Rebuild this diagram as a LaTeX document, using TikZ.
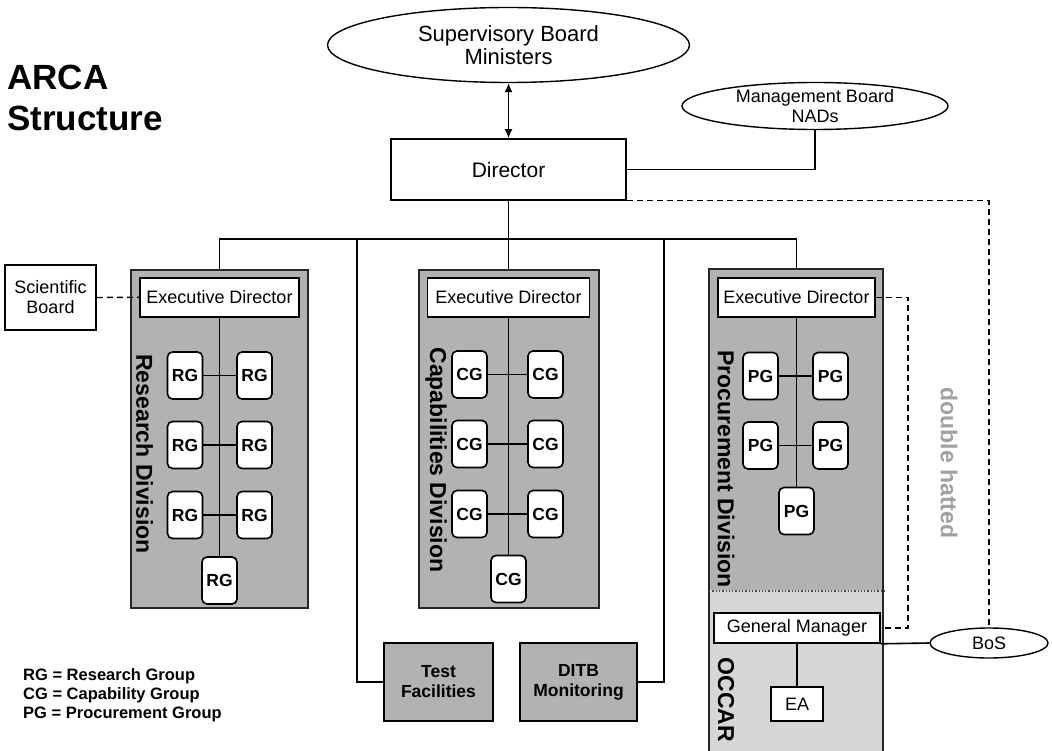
\documentclass[tikz,border=0pt]{standalone}
\usepackage{fontspec}
\setmainfont{Liberation Sans}
\usetikzlibrary{positioning,shapes.geometric,arrows.meta}
\definecolor{divgray}{RGB}{178,178,178}
\definecolor{occargray}{RGB}{214,214,214}
\definecolor{hatgray}{RGB}{160,160,160}

\begin{document}
\begin{tikzpicture}[x=1pt,y=-1pt]
\tikzstyle{every node}=[inner sep=0pt,font=\fontsize{18}{20}\selectfont]
\tikzstyle{link}=[line width=1.6pt]
\tikzstyle{dashlink}=[line width=1.4pt,dash pattern=on 6pt off 4pt]
\tikzstyle{box}=[draw,fill=white,line width=1.6pt,align=center]
\tikzstyle{board}=[draw,ellipse,fill=white,line width=1.4pt,align=center]
\tikzstyle{division}=[draw=black!85,fill=divgray,line width=2pt,minimum height=338pt]
\tikzstyle{execbox}=[box,minimum height=39pt]
\tikzstyle{group}=[box,rounded corners=5pt,minimum width=35pt,minimum height=47pt,font=\bfseries\fontsize{17.5}{20}\selectfont]
\tikzstyle{unit}=[box,fill=divgray,line width=1.8pt,minimum height=78pt,font=\bfseries\fontsize{17.5}{20}\selectfont]
\tikzstyle{divtitle}=[rotate=-90,font=\bfseries\fontsize{23}{25}\selectfont]

\useasboundingbox (0,0) rectangle (1052,751);

% title and legend
\node[anchor=north west,align=left,font=\bfseries\fontsize{35}{41}\selectfont] (title) at (7,65) {ARCA\\Structure};
\node[anchor=north west,align=left,font=\bfseries\fontsize{16.5}{19}\selectfont] (legend) at (23,668)
  {RG = Research Group\\CG = Capability Group\\PG = Procurement Group};

% top level
\node[board,minimum width=362pt,minimum height=75pt,font=\fontsize{22}{23}\selectfont] (sb) at (508.5,45) {Supervisory Board\\Ministers};
\node[box,minimum width=235pt,minimum height=61pt,font=\fontsize{21}{23}\selectfont] (dir) at (508.5,169.5) {Director};
\node[board,inner ysep=-3pt,minimum width=266pt,minimum height=47pt] (mb) at (815,106) {Management Board\\NADs};
\node[box,minimum width=91pt,minimum height=65pt] (sci) at (50.5,297.5) {Scientific\\Board};

% divisions
\node[division,minimum width=177pt] (resdiv) at (219.5,439) {};
\node[division,minimum width=180pt] (capdiv) at (508.5,439) {};
\node[division,draw=none,minimum width=173pt,minimum height=320pt] (procdiv) at (796.5,430) {};
\node[fill=occargray,minimum width=173pt,minimum height=162pt] (occar) at (796.5,671) {};
\draw[black!85,line width=2pt] (procdiv.north west) rectangle (occar.south east);
\draw[black!70,line width=1.3pt,dotted] (procdiv.south west) -- (procdiv.south east);

\node[execbox,minimum width=159pt,below=8pt of resdiv.north] (resexec) {Executive Director};
\node[execbox,minimum width=162pt,below=8pt of capdiv.north] (capexec) {Executive Director};
\node[execbox,minimum width=157pt,below=8pt of procdiv.north] (procexec) {Executive Director};

\node[divtitle] (restitle) at (144.5,454) {Research Division};
\node[divtitle] (captitle) at (436,460) {Capabilities Division};
\node[divtitle] (proctitle) at (726,469) {Procurement Division};
\node[divtitle] (occartitle) at (726,700) {OCCAR};
\node[divtitle,text=hatgray] (hatted) at (949,463) {double hatted};

% groups
\node[group] (rgb) at (219.5,580.5) {RG};
\draw[link] (resexec.south) -- (rgb.north);
\foreach \y [count=\r] in {375.5,445,515} {
  \node[group] (rgl\r) at (185,\y) {RG};
  \node[group] (rgr\r) at (254.5,\y) {RG};
  \draw[link] (rgl\r) -- (rgr\r);
}
\node[group] (cgb) at (508.5,579) {CG};
\draw[link] (capexec.south) -- (cgb.north);
\foreach \y [count=\r] in {374.5,444,514} {
  \node[group] (cgl\r) at (469.5,\y) {CG};
  \node[group] (cgr\r) at (545.5,\y) {CG};
  \draw[link] (cgl\r) -- (cgr\r);
}
\node[group] (pgb) at (796.5,511) {PG};
\draw[link] (procexec.south) -- (pgb.north);
\foreach \y [count=\r] in {376,445.5} {
  \node[group] (pgl\r) at (760.5,\y) {PG};
  \node[group] (pgr\r) at (830.5,\y) {PG};
  \draw[link] (pgl\r) -- (pgr\r);
}

% OCCAR part
\node[box,minimum width=166pt,minimum height=30pt] (gm) at (797,628) {General Manager};
\node[box,minimum width=52pt,minimum height=34pt] (ea) at (797,704) {EA};
\draw[link] (gm) -- (ea);
\node[board,minimum width=118pt,minimum height=30pt] (bos) at (989,643) {BoS};

% support units
\node[unit,minimum width=109pt] (test) at (438.5,682) {Test\\Facilities};
\node[unit,minimum width=117pt] (ditb) at (578.5,682) {DITB\\Monitoring};

% connectors
\coordinate (bus) at (508.5,239);
\coordinate (tap1) at (357,239);
\coordinate (tap2) at (664,239);
\draw[link,{Latex[length=9pt,width=8pt]}-{Latex[length=9pt,width=8pt]}] (sb) -- (dir);
\draw[link] (dir.east) -| (mb.south);
\draw[link] (dir) -- (capdiv);
\draw[link] (resdiv.north) |- (bus) -| (procdiv.north);
\draw[link] (test.west) -| (tap1);
\draw[link] (ditb.east) -| (tap2);
\draw[link] (gm.south east) -- (bos.west);
\draw[dashlink] (sci.east) -- (resexec.west);
\draw[dashlink] (procexec.east) -- ++(32,0) |- (gm.east);
\draw[dashlink] (dir.south east) -| (bos.north);
\end{tikzpicture}
\end{document}
